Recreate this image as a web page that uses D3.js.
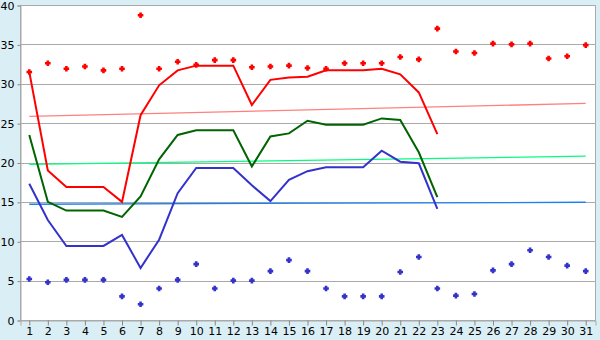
<!DOCTYPE html>
<html>
<head>
<meta charset="utf-8">
<script src="https://cdn.jsdelivr.net/npm/d3@7"></script>
<style>
  body { margin: 0; background: #daeef5; }
  svg { display: block; }
</style>
</head>
<body>
<svg id="chart" width="600" height="340"></svg>
<script>
const days = d3.range(1, 32)
const yTicks = [0, 5, 10, 15, 20, 25, 30, 35, 40]

// daily maxima / minima (scatter)
const highPoints = [31.5, 32.6, 31.9, 32.2, 31.7, 31.9, 38.7, 31.9, 32.8, 32.4,
  33.0, 33.0, 32.1, 32.2, 32.3, 32.0, 31.9, 32.6, 32.6, 32.6, 33.4, 33.1,
  37.0, 34.1, 33.9, 35.1, 35.0, 35.1, 33.2, 33.5, 34.9]
const lowPoints = [5.2, 4.8, 5.1, 5.1, 5.1, 3.0, 2.0, 4.0, 5.1, 7.1,
  4.0, 5.0, 5.0, 6.2, 7.6, 6.2, 4.0, 3.0, 3.0, 3.0, 6.1, 8.0,
  4.0, 3.1, 3.3, 6.3, 7.1, 8.85, 8.0, 6.9, 6.2]

// measured lines, days 1..23
const highLine = [31.5, 19.0, 16.9, 16.9, 16.9, 15.0, 26.0, 29.8, 31.7, 32.3,
  32.3, 32.3, 27.3, 30.5, 30.8, 30.9, 31.7, 31.7, 31.7, 31.9, 31.2, 28.9, 23.6]
const meanLine = [23.5, 15.0, 13.9, 13.9, 13.9, 13.1, 15.7, 20.4, 23.5, 24.1,
  24.1, 24.1, 19.5, 23.3, 23.7, 25.3, 24.8, 24.8, 24.8, 25.6, 25.4, 21.3, 15.6]
const lowLine = [17.3, 12.7, 9.4, 9.4, 9.4, 10.8, 6.6, 10.2, 16.1, 19.3,
  19.3, 19.3, 17.1, 15.1, 17.8, 18.9, 19.4, 19.4, 19.4, 21.5, 20.1, 19.9, 14.1]

// trend lines, value at day 1 and day 31
const highTrend = [25.85, 27.5]
const meanTrend = [19.75, 20.8]
const lowTrend = [14.7, 14.95]

const svg = d3.select('#chart')
const plot = { left: 20, right: 595, top: 5, bottom: 320 }

const x = d3.scaleBand().domain(days).range([plot.left, plot.right])
const cx = (d) => x(d) + x.bandwidth() / 2
const y = d3.scaleLinear().domain([0, 40]).range([plot.bottom, plot.top])

// plot area
svg.append('rect')
  .attr('x', plot.left).attr('y', plot.top)
  .attr('width', plot.right - plot.left).attr('height', plot.bottom - plot.top)
  .attr('fill', '#fff')

// grid
svg.append('g')
  .selectAll('line')
  .data(yTicks)
  .enter()
  .append('line')
  .attr('x1', plot.left).attr('x2', plot.right)
  .attr('y1', (d) => Math.round(y(d)) + 0.5).attr('y2', (d) => Math.round(y(d)) + 0.5)
  .attr('stroke', '#aaa')

svg.append('rect')
  .attr('x', plot.left + 0.5).attr('y', plot.top + 0.5)
  .attr('width', plot.right - plot.left).attr('height', plot.bottom - plot.top)
  .attr('fill', 'none').attr('stroke', '#aaa')

// axes
const yAxis = svg.append('g')
  .attr('transform', `translate(${plot.left + 0.5},0.5)`)
  .call(d3.axisLeft(y).tickValues(yTicks).tickSize(3).tickPadding(3))
const xAxis = svg.append('g')
  .attr('transform', `translate(0.5,${plot.bottom + 0.5})`)
  .call(d3.axisBottom(x).tickSize(5).tickPadding(2))

;[yAxis, xAxis].forEach((ax) => {
  ax.select('.domain').attr('stroke', '#aaa')
  ax.selectAll('.tick line').attr('stroke', '#888')
  ax.selectAll('text')
    .attr('fill', '#000')
    .style('font-family', 'Verdana, "DejaVu Sans", sans-serif')
    .style('font-size', '11px')
})

// trend lines
const trends = [
  { v: highTrend, color: '#ff8080' },
  { v: meanTrend, color: '#00ff80' },
  { v: lowTrend, color: '#1a80f0' }
]
svg.append('g')
  .selectAll('line')
  .data(trends)
  .enter()
  .append('line')
  .attr('x1', cx(1)).attr('x2', cx(31))
  .attr('y1', (d) => y(d.v[0])).attr('y2', (d) => y(d.v[1]))
  .attr('stroke', (d) => d.color)
  .attr('stroke-width', 1.3)

// measured lines
const line = d3.line()
  .x((d, i) => cx(days[i]))
  .y((d) => y(d))
const series = [
  { v: highLine, color: '#ff0000' },
  { v: meanLine, color: '#006400' },
  { v: lowLine, color: '#3333cc' }
]
svg.append('g')
  .selectAll('path')
  .data(series)
  .enter()
  .append('path')
  .attr('d', (d) => line(d.v))
  .attr('fill', 'none')
  .attr('stroke', (d) => d.color)
  .attr('stroke-width', 2)

// scatter markers: small filled cross
const marker = 'M-1.3,-2.8H1.3V-1.3H2.8V1.3H1.3V2.8H-1.3V1.3H-2.8V-1.3H-1.3Z'
const scatter = [
  { v: highPoints, color: '#ff0000' },
  { v: lowPoints, color: '#3333cc' }
]
scatter.forEach((s) => {
  svg.append('g')
    .selectAll('path')
    .data(s.v)
    .enter()
    .append('path')
    .attr('d', marker)
    .attr('transform', (d, i) => `translate(${cx(days[i])},${y(d)})`)
    .attr('fill', s.color)
})
</script>
</body>
</html>
